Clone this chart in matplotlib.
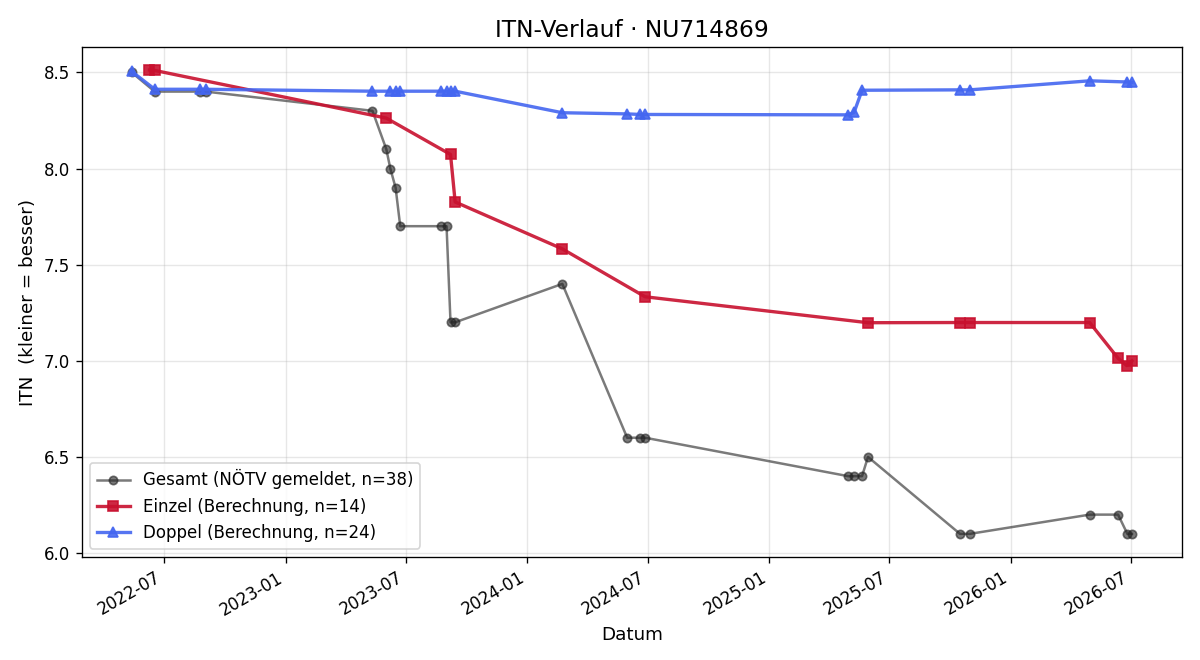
import matplotlib
matplotlib.use("Agg")
import matplotlib.dates as mdates
import matplotlib.pyplot as plt
import pandas as pd

# Gesamt (NÖTV gemeldet)
gesamt_dates = [
    "2022-05-13", "2022-06-17", "2022-08-25", "2022-09-02",
    "2023-05-12", "2023-06-02", "2023-06-08", "2023-06-16", "2023-06-23",
    "2023-08-23", "2023-09-01", "2023-09-07", "2023-09-14",
    "2024-02-23", "2024-05-31", "2024-06-20", "2024-06-27",
    "2025-04-30", "2025-05-09", "2025-05-21", "2025-05-30",
    "2025-10-16", "2025-10-31",
    "2026-04-30", "2026-06-12", "2026-06-26", "2026-07-03",
]
gesamt_itn = [
    8.5, 8.4, 8.4, 8.4,
    8.3, 8.1, 8.0, 7.9, 7.7,
    7.7, 7.7, 7.2, 7.2,
    7.4, 6.6, 6.6, 6.6,
    6.4, 6.4, 6.4, 6.5,
    6.1, 6.1,
    6.2, 6.2, 6.1, 6.1,
]

# Einzel (Berechnung)
einzel_dates = [
    "2022-06-09", "2022-06-17", "2023-06-02", "2023-09-07", "2023-09-14",
    "2024-02-23", "2024-06-27", "2025-05-30", "2025-10-16", "2025-10-31",
    "2026-04-30", "2026-06-12", "2026-06-25", "2026-07-03",
]
einzel_itn = [
    8.512, 8.51, 8.262, 8.073, 7.826,
    7.582, 7.333, 7.198, 7.199, 7.199,
    7.199, 7.013, 6.975, 7.0,
]

# Doppel (Berechnung)
doppel_dates = [
    "2022-05-13", "2022-06-17", "2022-08-25", "2022-09-02",
    "2023-05-12", "2023-06-08", "2023-06-16", "2023-06-23",
    "2023-08-23", "2023-09-01", "2023-09-07", "2023-09-14",
    "2024-02-23", "2024-05-31", "2024-06-20", "2024-06-27",
    "2025-04-30", "2025-05-09", "2025-05-21",
    "2025-10-16", "2025-10-31",
    "2026-04-30", "2026-06-26", "2026-07-03",
]
doppel_itn = [
    8.505, 8.412, 8.412, 8.412,
    8.402, 8.402, 8.402, 8.402,
    8.402, 8.402, 8.402, 8.402,
    8.29, 8.284, 8.281, 8.281,
    8.279, 8.292, 8.407,
    8.409, 8.409,
    8.456, 8.45, 8.448,
]

fig, ax = plt.subplots(figsize=(10, 5.5), dpi=120)
fig.subplots_adjust(left=0.068, right=0.985, top=0.929, bottom=0.156)

ax.plot(pd.to_datetime(gesamt_dates), gesamt_itn, marker="o", markersize=5,
        linewidth=1.5, color="#222222", alpha=0.6,
        label="Gesamt (NÖTV gemeldet, n=38)")
ax.plot(pd.to_datetime(einzel_dates), einzel_itn, marker="s", markersize=6,
        linewidth=2, color="#C8102E", alpha=0.9,
        label="Einzel (Berechnung, n=14)")
ax.plot(pd.to_datetime(doppel_dates), doppel_itn, marker="^", markersize=6,
        linewidth=2, color="#4466F0", alpha=0.9,
        label="Doppel (Berechnung, n=24)")

ax.set_title("ITN-Verlauf · NU714869", fontsize=14)
ax.set_xlabel("Datum", fontsize=11)
ax.set_ylabel("ITN  (kleiner = besser)", fontsize=11)
ax.grid(True, alpha=0.3)
ax.xaxis.set_major_locator(mdates.MonthLocator(bymonth=[1, 7]))
ax.xaxis.set_major_formatter(mdates.DateFormatter("%Y-%m"))
ax.tick_params(labelsize=10)
for label in ax.get_xticklabels():
    label.set_rotation(30)
    label.set_ha("right")
ax.legend(loc="lower left", fontsize=10)

fig.savefig("out.png", dpi=120)
